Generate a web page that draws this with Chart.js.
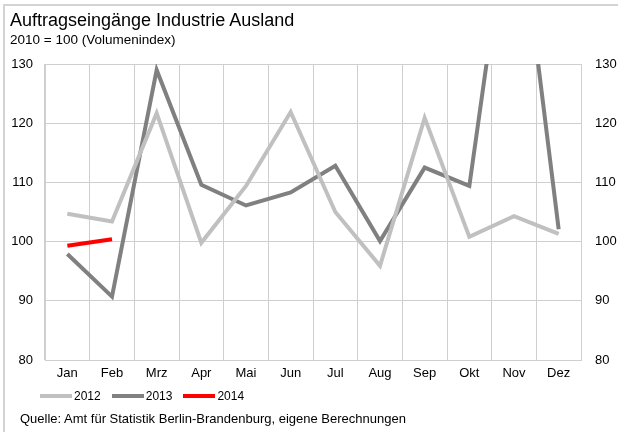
<!DOCTYPE html>
<html>
<head>
<meta charset="utf-8">
<script src="https://cdn.jsdelivr.net/npm/chart.js@4.4.1/dist/chart.umd.min.js"></script>
<style>
  body { margin: 0; background: #fff; }
  #wrap { position: relative; width: 618px; height: 432px; background: #fff; font-family: "Liberation Sans", Arial, sans-serif; color: #000; }
  #wrap canvas { position: absolute; left: 0; top: 0; }
  .frameTop { position: absolute; left: 3px; top: 4px; width: 615px; height: 2px; background: #d3d3d3; }
  .frameLeft { position: absolute; left: 3px; top: 4px; width: 2px; height: 428px; background: #d3d3d3; }
  .title { position: absolute; left: 10px; top: 10px; font-size: 18px; line-height: 20px; white-space: nowrap; }
  .subtitle { position: absolute; left: 10px; top: 32px; font-size: 13.5px; line-height: 16px; white-space: nowrap; }
  .legend { position: absolute; left: 40px; top: 389px; font-size: 12px; line-height: 14px; white-space: nowrap; }
  .legend span.item { display: inline-block; margin-right: 11px; }
  .legend span.swatch { display: inline-block; width: 32px; height: 4px; vertical-align: middle; margin-right: 2px; position: relative; top: -1px; }
  .source { position: absolute; left: 20px; top: 411px; font-size: 13px; line-height: 16px; white-space: nowrap; }
</style>
</head>
<body>
<div id="wrap">
  <canvas id="chart" width="618" height="432"></canvas>
  <div class="frameTop"></div>
  <div class="frameLeft"></div>
  <div class="title">Auftragseingänge Industrie Ausland</div>
  <div class="subtitle">2010 = 100 (Volumenindex)</div>
  <div class="legend" id="legend"></div>
  <div class="source">Quelle: Amt für Statistik Berlin-Brandenburg, eigene Berechnungen</div>
</div>
<script>
// Monate und Werte (Volumenindex 2010 = 100)
const months = ['Jan', 'Feb', 'Mrz', 'Apr', 'Mai', 'Jun', 'Jul', 'Aug', 'Sep', 'Okt', 'Nov', 'Dez'];
const seriesNames = ['2012', '2013', '2014'];
const values2012 = [104.7, 103.4, 121.7, 99.8, 109.4, 121.9, 105.0, 95.9, 120.9, 100.8, 104.3, 101.3];
const values2013 = [97.9, 90.7, 129.0, 109.6, 106.1, 108.3, 112.8, 100.1, 112.5, 109.4, 163.0, 102.1];
const values2014 = [99.3, 100.4, null, null, null, null, null, null, null, null, null, null];
const yTicks = [80, 90, 100, 110, 120, 130];

const seriesColors = ['#c0c0c0', '#808080', '#ff0000'];
const fontFamily = '"Liberation Sans", Arial, sans-serif';
const gridColor = '#cfcfcf';

const makeDataset = (name, data, color) => {
    return {
        label: name,
        data: data,
        borderColor: color,
        backgroundColor: color,
        borderWidth: 4,
        pointRadius: 0,
        pointHoverRadius: 0,
        tension: 0,
        fill: false,
        clip: 0,
        spanGaps: false
    };
};

const datasets = [
    makeDataset(seriesNames[0], values2012, seriesColors[0]),
    makeDataset(seriesNames[1], values2013, seriesColors[1]),
    makeDataset(seriesNames[2], values2014, seriesColors[2])
];

const yAxisBase = {
    type: 'linear',
    min: yTicks[0],
    max: yTicks[yTicks.length - 1],
    afterBuildTicks: (scale) => {
        scale.ticks = yTicks.map((v) => ({ value: v }));
    },
    ticks: {
        color: '#000',
        font: { family: fontFamily, size: 13 }
    }
};

const config = {
    type: 'line',
    data: {
        labels: months,
        datasets: datasets
    },
    options: {
        responsive: false,
        animation: false,
        layout: {
            padding: { top: 64, left: 0, right: 0, bottom: 0 }
        },
        plugins: {
            legend: { display: false },
            title: { display: false },
            tooltip: { enabled: false }
        },
        scales: {
            x: {
                offset: true,
                grid: {
                    offset: true,
                    color: gridColor,
                    drawTicks: false
                },
                border: { color: gridColor },
                ticks: {
                    color: '#000',
                    padding: 6,
                    maxRotation: 0,
                    autoSkip: false,
                    font: { family: fontFamily, size: 13 }
                },
                afterFit: (scale) => { scale.height = 72; }
            },
            y: Object.assign({}, yAxisBase, {
                position: 'left',
                grid: { color: gridColor, drawTicks: false },
                border: { color: gridColor },
                ticks: Object.assign({}, yAxisBase.ticks, { padding: 12 }),
                afterFit: (scale) => { scale.width = 45; }
            }),
            y2: Object.assign({}, yAxisBase, {
                position: 'right',
                grid: { display: false, drawTicks: false },
                border: { color: gridColor },
                ticks: Object.assign({}, yAxisBase.ticks, { padding: 14 }),
                afterFit: (scale) => { scale.width = 37; }
            })
        }
    }
};

const chart = new Chart(document.getElementById('chart'), config);

// Legende aus den Datensätzen
const legendEl = document.getElementById('legend');
chart.data.datasets.forEach((ds) => {
    const item = document.createElement('span');
    item.className = 'item';
    const swatch = document.createElement('span');
    swatch.className = 'swatch';
    swatch.style.background = ds.borderColor;
    item.appendChild(swatch);
    item.appendChild(document.createTextNode(ds.label));
    legendEl.appendChild(item);
});
</script>
</body>
</html>
